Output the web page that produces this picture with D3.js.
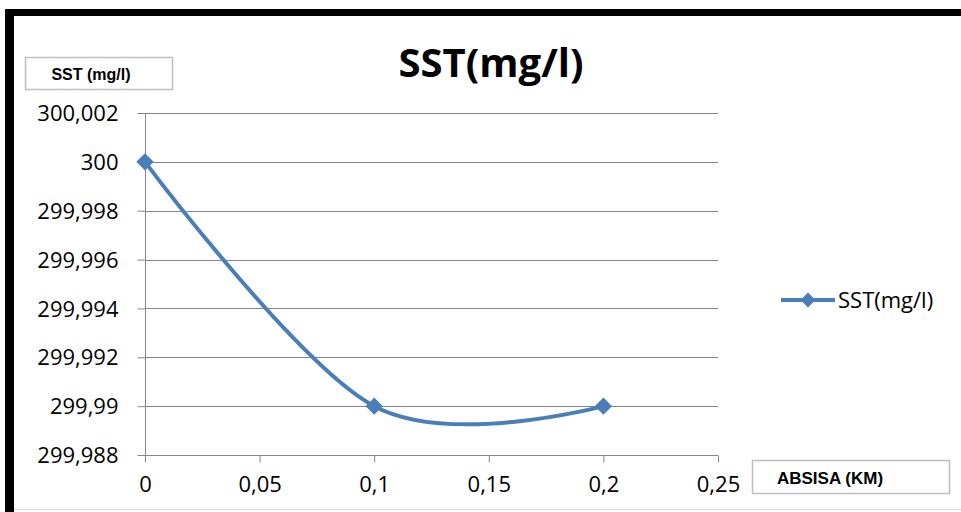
<!DOCTYPE html>
<html><head><meta charset="utf-8">
<script src="https://cdn.jsdelivr.net/npm/d3@7"></script>
<style>body{margin:0;background:#fff;overflow:hidden}svg{display:block}</style>
</head><body>
<svg id="c" width="961" height="512"></svg>
<script>
const xValues = [0, 0.1, 0.2];
const sstValues = [300, 299.99, 299.99];
const yTicks = [299.988, 299.99, 299.992, 299.994, 299.996, 299.998, 300, 300.002];
const xTicks = [0, 0.05, 0.1, 0.15, 0.2, 0.25];
const seriesName = "SST(mg/l)";
const chartTitle = "SST(mg/l)";
const yTitle = "SST (mg/l)";
const xTitle = "ABSISA (KM)";

const svg = d3.select("#c");
const color = "#4a7ebb";
const font = "Open Sans, sans-serif";
const fmt = v => String(+v.toFixed(3)).replace(".", ",");

// frame
svg.append("rect").attr("x",5).attr("y",9).attr("width",956).attr("height",7).attr("fill","#000");
svg.append("rect").attr("x",5).attr("y",9).attr("width",9).attr("height",503).attr("fill","#000");
svg.append("line").attr("x1",14).attr("x2",961).attr("y1",509.5).attr("y2",509.5).attr("stroke","#d9d9d9");

const x = d3.scaleLinear().domain([0,0.25]).range([145,718]);
const y = d3.scaleLinear().domain([299.988,300.002]).range([455,113]);

// gridlines
svg.append("g").selectAll("line").data(yTicks.slice(1)).join("line")
  .attr("x1",145).attr("x2",718).attr("y1",d=>Math.round(y(d))+0.5).attr("y2",d=>Math.round(y(d))+0.5)
  .attr("stroke","#868686").attr("stroke-width",1);

// y axis
const ya = svg.append("g").attr("transform","translate(145.5,0)")
  .call(d3.axisLeft(y).tickValues(yTicks).tickFormat(fmt).tickSize(8).tickPadding(19));
ya.selectAll("text").attr("font-family",font).attr("font-size",22).attr("fill","#000").attr("dy","0.35em");
ya.selectAll("line,path").attr("stroke","#868686");
ya.select(".domain").attr("d","M0,113V455.5");

// x axis
const xa = svg.append("g").attr("transform","translate(0,455.5)")
  .call(d3.axisBottom(x).tickValues(xTicks).tickFormat(fmt).tickSize(7).tickPadding(14));
xa.selectAll("text").attr("font-family",font).attr("font-size",22).attr("fill","#000");
xa.selectAll("line,path").attr("stroke","#868686");
xa.select(".domain").attr("d","M145,0H718");

// line
const pts = xValues.map((v,i)=>[x(v), y(sstValues[i])]);
svg.append("path").attr("d", d3.line().curve(d3.curveCatmullRom.alpha(0))(pts))
  .attr("fill","none").attr("stroke",color).attr("stroke-width",4).attr("stroke-linejoin","round");

const diamond = d3.symbol().type(d3.symbolSquare).size(150);
svg.append("g").selectAll("path").data(pts).join("path")
  .attr("d", diamond).attr("transform", d=>`translate(${d[0]},${d[1]}) rotate(45)`)
  .attr("fill",color);

// title
svg.append("text").attr("x",491).attr("y",77).attr("text-anchor","middle")
  .attr("font-family",font).attr("font-weight","bold").attr("font-size",40).text(chartTitle);

// y title box
svg.append("rect").attr("x",25.5).attr("y",57.5).attr("width",147).attr("height",32)
  .attr("fill","#fff").attr("stroke","#bfbfbf").attr("stroke-width",1.5);
svg.append("text").attr("x",91).attr("y",80).attr("text-anchor","middle")
  .attr("font-family","Liberation Sans, Arial, sans-serif").attr("font-weight","bold").attr("font-size",16).text(yTitle);

// x title box
svg.append("rect").attr("x",752.5).attr("y",460.5).attr("width",197).attr("height",33)
  .attr("fill","#fff").attr("stroke","#bfbfbf").attr("stroke-width",1.5);
svg.append("text").attr("x",830).attr("y",484).attr("text-anchor","middle")
  .attr("font-family","Liberation Sans, Arial, sans-serif").attr("font-weight","bold").attr("font-size",17).text(xTitle);

// legend
const lg = svg.append("g").attr("transform","translate(781,300)");
lg.append("line").attr("x1",0).attr("x2",54).attr("stroke",color).attr("stroke-width",4);
lg.append("path").attr("d",d3.symbol().type(d3.symbolSquare).size(110)).attr("transform","translate(27,0) rotate(45)").attr("fill",color);
lg.append("text").attr("x",57).attr("y",8).attr("font-family",font).attr("font-size",22).text(seriesName);
</script>
</body></html>
